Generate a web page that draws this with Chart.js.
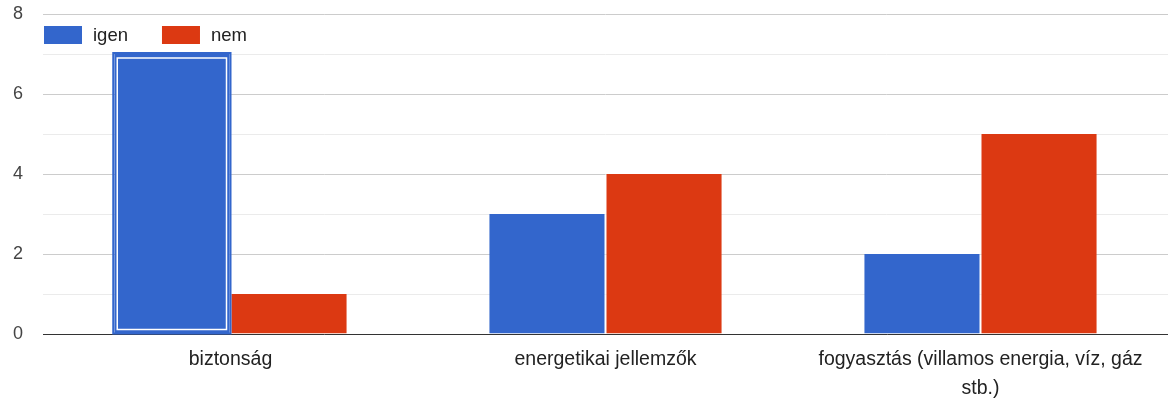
<!DOCTYPE html>
<html>
<head>
<meta charset="utf-8">
<script src="https://cdn.jsdelivr.net/npm/chart.js@4.4.0/dist/chart.umd.min.js"></script>
<style>
  html, body { margin: 0; padding: 0; background: #fff; }
  #wrap { width: 1168px; height: 401px; position: relative; }
</style>
</head>
<body>
<div id="wrap"><canvas id="chart"></canvas></div>
<script>
// data
const categories = [
  "biztonság",
  "energetikai jellemzők",
  ["fogyasztás (villamos energia, víz, gáz", "stb.)"]
];
const igenValues = [7, 3, 2];
const nemValues = [1, 4, 5];
const yTicks = [0, 2, 4, 6, 8];

const BLUE = "#3366cc";
const RED = "#dc3912";
const FONT = "'Liberation Sans', Arial, sans-serif";

// legend drawn inside the plot, top-left, like the original
const insideLegend = {
  id: "insideLegend",
  afterDraw(chart) {
    const ctx = chart.ctx;
    let x = chart.chartArea.left + 1;
    const y = 26;
    ctx.save();
    ctx.font = "18.5px " + FONT;
    ctx.textBaseline = "middle";
    chart.data.datasets.forEach(function (ds) {
      ctx.fillStyle = ds.backgroundColor;
      ctx.fillRect(x, y, 38, 18);
      ctx.fillStyle = "#222";
      ctx.fillText(ds.label, x + 49, y + 10);
      x += 49 + ctx.measureText(ds.label).width + 34;
    });
    ctx.restore();
  }
};

// the first blue bar is shown selected: white inner outline
const selectedBar = {
  id: "selectedBar",
  afterDatasetsDraw(chart) {
    const bar = chart.getDatasetMeta(0).data[0];
    if (!bar) return;
    const p = bar.getProps(["x", "y", "base", "width"], true);
    const ctx = chart.ctx;
    ctx.save();
    ctx.strokeStyle = BLUE;
    ctx.lineWidth = 2;
    ctx.strokeRect(p.x - p.width / 2 - 1, p.y - 1, p.width + 1, p.base - p.y + 1);
    ctx.strokeStyle = "#fff";
    ctx.lineWidth = 1.5;
    ctx.strokeRect(p.x - p.width / 2 + 3, p.y + 4, p.width - 7, p.base - p.y - 8);
    ctx.restore();
  }
};

const ctx = document.getElementById("chart").getContext("2d");
window.myChart = new Chart(ctx, {
  type: "bar",
  data: {
    labels: categories,
    datasets: [
      {
        label: "igen",
        data: igenValues,
        backgroundColor: BLUE,
        borderColor: "#ffffff",
        borderWidth: { left: 0, right: 1, top: 0, bottom: 0 },
      },
      {
        label: "nem",
        data: nemValues,
        backgroundColor: RED,
        borderColor: "#ffffff",
        borderWidth: { left: 1, right: 0, top: 0, bottom: 0 },
      },
    ],
  },
  options: {
    responsive: true,
    maintainAspectRatio: false,
    animation: false,
    layout: { padding: { top: 14, right: 0, left: 0, bottom: 0 } },
    categoryPercentage: 0.62,
    barPercentage: 1.0,
    plugins: {
      legend: { display: false },
      tooltip: { enabled: false },
    },
    scales: {
      x: {
        grid: { display: false, drawTicks: false },
        border: { color: "#333333", width: 1 },
        ticks: {
          color: "#222",
          font: { family: FONT, size: 19.5, lineHeight: 1.5 },
          padding: 11,
          maxRotation: 0,
          autoSkip: false,
        },
        afterFit(scale) {
          scale.height = 67;
          scale.paddingLeft = 0;
          scale.paddingRight = 0;
        },
      },
      y: {
        min: 0,
        max: 8,
        border: { display: false },
        grid: {
          color: function (c) {
            return c.tick.value % 2 === 0 ? "#cccccc" : "#ebebeb";
          },
          drawTicks: false,
        },
        ticks: {
          stepSize: 1,
          color: "#444",
          font: { family: FONT, size: 18 },
          padding: 20,
          callback: function (v) {
            return yTicks.indexOf(v) >= 0 ? v : "";
          },
        },
        afterFit(scale) {
          scale.width = 43;
          scale.paddingTop = 0;
          scale.paddingBottom = 0;
        },
      },
    },
  },
  plugins: [insideLegend, selectedBar],
});
</script>
</body>
</html>
